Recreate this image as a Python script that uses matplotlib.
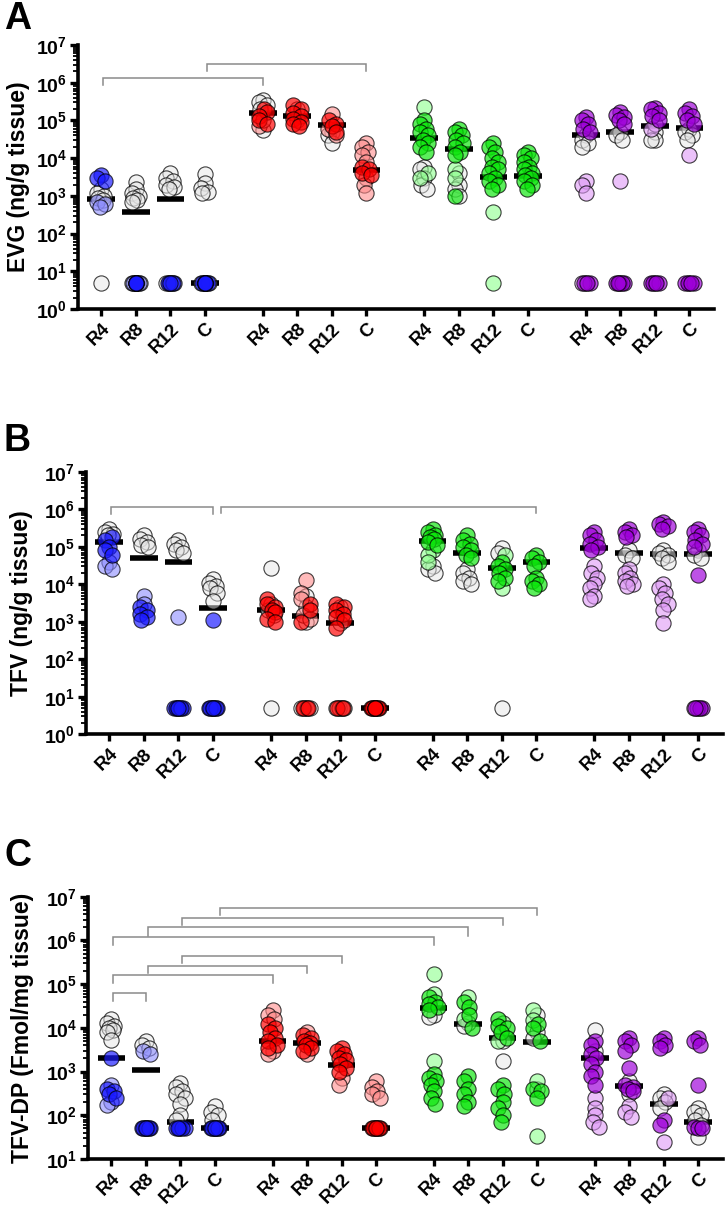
import numpy as np
import matplotlib
matplotlib.use('Agg')
import matplotlib.pyplot as plt
from matplotlib.ticker import FixedLocator, NullFormatter, FixedFormatter

plt.rcParams['font.family'] = ['Liberation Sans', 'DejaVu Sans']
plt.rcParams['font.weight'] = 'bold'
plt.rcParams['mathtext.fontset'] = 'custom'
plt.rcParams['mathtext.rm'] = 'Liberation Sans:bold'
plt.rcParams['mathtext.bf'] = 'Liberation Sans:bold'
plt.rcParams['mathtext.it'] = 'Liberation Sans:bold'

# ---------------- data ----------------
tick_labels = ['R4', 'R8', 'R12', 'C'] * 4
group_names = ['blue', 'red', 'green', 'purple']

# Panel A : EVG (ng/g tissue)
A_gray = [[1500, 1200, 1000, 900, 800, 5],
          [2300, 1500, 1200, 1000, 900, 800, 700, 5, 5, 5, 5],
          [4000, 3000, 2500, 2000, 1700, 1500, 5, 5],
          [3800, 2200, 1600, 1300, 1200, 5, 5, 5],
          [3.5e5, 3e5, 2.5e5, 2e5, 5.6e4],
          [2e5, 1e5],
          [5e4, 4e4, 2.5e4],
          [],
          [6e3, 5e3, 3e3, 2e3, 1.5e3],
          [4e3, 2e3, 1.5e3, 1e3],
          [],
          [],
          [4e4, 3e4, 2.5e4, 2e4, 5],
          [5e4, 4e4, 3e4],
          [5e4, 3e4, 3e4],
          [6e4, 5e4, 4e4, 3e4]]
A_light = [[700, 600, 500],
           [5, 5, 5],
           [5, 5, 5],
           [],
           [7e4, 1e5],
           [],
           [1.5e5, 6e4, 4e4],
           [2.5e4, 2e4, 1.5e4, 1.2e4, 8e3, 3e3, 2e3, 1.2e3],
           [2.3e5, 4e3, 3e3],
           [5e3, 3e3],
           [370, 5],
           [],
           [2.5e3, 2e3, 1.2e3, 5],
           [2.5e3],
           [8e4, 6e4, 5],
           [1.2e4]]
A_dark = [[3500, 3000, 2500],
          [5, 5, 5, 5],
          [5, 5, 5],
          [5, 5, 5, 5, 5, 5, 5, 5],
          [2e5, 1.7e5, 1.3e5, 1e5, 8e4],
          [2.5e5, 2e5, 1.6e5, 1.3e5, 1.1e5, 9e4, 8e4, 7e4],
          [1e5, 8e4, 7e4, 5e4],
          [6e3, 5e3, 4e3, 3.5e3],
          [1e5, 8e4, 6e4, 5e4, 4e4, 3e4, 2.5e4, 2e4, 1.5e4],
          [6e4, 5e4, 4e4, 3e4, 2.5e4, 2e4, 1.5e4, 1.2e4, 1e3],
          [2.5e4, 2e4, 1.5e4, 1e4, 8e3, 6e3, 5e3, 4e3, 3e3, 2.5e3, 2e3, 1.5e3],
          [1.5e4, 1.2e4, 1e4, 8e3, 6e3, 5e3, 4e3, 3.5e3, 3e3, 2.5e3, 2e3, 1.5e3],
          [1.2e5, 1e5, 8e4, 6e4, 5e4, 5, 5, 5],
          [1.7e5, 1.4e5, 1.2e5, 1e5, 8e4, 5, 5, 5, 5, 5, 5],
          [2.2e5, 2e5, 1.6e5, 1.3e5, 1e5, 5, 5, 5, 5],
          [2e5, 1.6e5, 1.3e5, 1e5, 8e4, 5, 5, 5, 5, 5]]
A_median = [830, 380, 820, 5, 1.6e5, 1.3e5, 7.5e4, 4.8e3,
            3.4e4, 1.7e4, 3.1e3, 3.4e3, 4.1e4, 5e4, 7.3e4, 6.3e4]
A_brackets = [(0, 4, 10**6.12, 10**5.94), (3, 7, 10**6.49, 10**6.32)]

# Panel B : TFV (ng/g tissue)
B_gray = [[3e5, 2.5e5, 2.2e5, 2e5],
          [2e5, 1.6e5, 1.3e5, 1.1e5, 1e5],
          [1.5e5, 1.2e5, 1e5, 8e4, 7e4],
          [1.4e4, 1.1e4, 9e3, 8e3, 6e3, 3.5e3],
          [2.7e4, 3e3, 2e3, 5],
          [5e3, 2.5e3, 1e3, 5, 5, 5],
          [2.5e3, 9e2, 5, 5, 5],
          [],
          [3e4, 2.5e4, 2e4],
          [2.5e4, 2e4, 1.5e4, 1.2e4, 1e4],
          [9e4, 7e4, 5],
          [],
          [],
          [8e4, 6e4, 5e4],
          [8e4, 7e4, 6e4, 5e4, 4e4],
          [8e4, 6e4, 5e4]]
B_light = [[4e4, 3e4, 2.5e4],
           [5e3, 3e3],
           [1.3e3],
           [],
           [1.5e3],
           [1.3e4, 6e3, 4e3, 1.5e3, 1.2e3, 5, 5],
           [5, 5],
           [],
           [8e4, 6e4, 4e4],
           [],
           [6e4, 8e3],
           [],
           [3e4, 2e4, 1.5e4, 1e4, 8e3, 5e3, 4e3],
           [2.5e4, 2e4, 1.5e4, 1.2e4, 1e4, 9e3],
           [1e4, 8e3, 6e3, 4e3, 3e3, 2e3, 9e2],
           [5, 5]]
B_dark = [[1.8e5, 1.5e5, 1e5, 8e4, 6e4],
          [2.5e3, 2e3, 1.6e3, 1.3e3, 1.1e3],
          [5, 5, 5, 5, 5, 5, 5, 5],
          [1.1e3, 5, 5, 5, 5, 5, 5, 5, 5],
          [4e3, 3e3, 2.5e3, 2e3, 1.8e3, 1.2e3, 1e3],
          [3e3, 2e3, 1e3, 5, 5],
          [3e3, 2.5e3, 2e3, 1.6e3, 1.3e3, 1.1e3, 7e2, 5, 5],
          [5, 5, 5, 5, 5, 5, 5, 5, 5, 5],
          [3e5, 2.5e5, 2e5, 1.8e5, 1.6e5, 1.3e5, 1.1e5],
          [2e5, 1.5e5, 1.2e5, 1e5, 8e4, 6e4, 5e4],
          [4e4, 3e4, 2.5e4, 2e4, 1.5e4, 1.2e4],
          [6e4, 5e4, 4e4, 3e4, 1.5e4, 1.2e4, 1e4, 8e3],
          [2.5e5, 2e5, 1.5e5, 1.2e5, 1e5, 8e4],
          [3e5, 2.5e5, 2e5, 1.8e5],
          [4.5e5, 4e5, 3.5e5, 3e5],
          [3e5, 2.5e5, 2e5, 1.5e5, 1.2e5, 1e5, 1.8e4, 5, 5, 5, 5]]
B_median = [1.3e5, 4.9e4, 3.8e4, 2.3e3, 2e3, 1.4e3, 9.2e2, 5,
            1.45e5, 7e4, 2.75e4, 3.9e4, 9.3e4, 6.6e4, 6.3e4, 6.3e4]
B_brackets = [(0, 3, 10**6.05, 10**5.87), (3.17, 11, 10**6.07, 10**5.89)]

# Panel C : TFV-DP (Fmol/mg tissue)
C_gray = [[1.6e4, 1.3e4, 1.1e4, 1e4, 9e3, 8e3, 5.3e3],
          [5e3, 4e3, 3.5e3],
          [5.5e2, 4.5e2, 3.5e2, 3e2, 2.5e2, 1.8e2, 1e2, 8e1],
          [1.6e2, 1.2e2, 1e2, 8e1],
          [],
          [],
          [],
          [],
          [2e4, 1.8e4],
          [1.3e4, 1.1e4],
          [1.7e3, 5e3],
          [2e4, 8e3, 6e3, 4e2],
          [9e3, 3e3],
          [6e2, 3e2],
          [3e2, 2.5e2, 2e2, 1.5e2],
          [1.5e2, 1.2e2, 1e2, 8e1, 6e1, 3.2e1]]
C_light = [[5e2, 2e2, 1.7e2],
           [3e3, 2.5e3],
           [],
           [],
           [2.5e4, 2e4, 1.6e4, 3e3, 2.5e3],
           [8e3, 2.5e3],
           [7e2, 5e2],
           [6e2, 4.5e2, 3.5e2, 3e2, 2.5e2],
           [1.7e5, 1.7e3, 6e4],
           [5e4, 1.6e4],
           [1.3e4, 5e3],
           [2.5e4, 1.5e4, 6e2, 33],
           [2.5e2, 1.5e2, 1e2, 7e1, 5.5e1],
           [1.6e2, 1.2e2, 9e1],
           [2.5e2, 25],
           []]
C_dark = [[2e3, 4e2, 3.5e2, 3e2, 2.5e2],
          [50, 50, 50, 50, 50, 50, 50, 50],
          [50, 50, 50, 50, 50, 50],
          [50, 50, 50, 50, 50, 50, 50, 50],
          [1.2e4, 1e4, 8e3, 6e3, 5e3, 4e3, 3.5e3],
          [7e3, 6e3, 5e3, 4.5e3, 4e3, 3.5e3, 3e3],
          [3.5e3, 3e3, 2.5e3, 2e3, 1.8e3, 1.5e3, 1.2e3, 1e3],
          [50, 50, 50, 50, 50, 50, 50, 50],
          [5e4, 4e4, 3.5e4, 3e4, 2.5e4, 9e2, 7e2, 6e2, 5e2, 3.5e2, 2.5e2, 1.8e2],
          [4e4, 3e4, 2e4, 1e4, 8e2, 6e2, 4e2, 3e2, 2e2, 1.6e2],
          [1.6e4, 1.1e4, 1e4, 8e3, 6e3, 5e2, 4e2, 3e2, 2e2, 1.5e2, 1e2, 7e1],
          [1.2e4, 1e4, 5e3, 4e2, 3.5e2, 2.5e2],
          [5e3, 4e3, 2.5e3, 2e3, 1.5e3, 1e3, 8e2, 5e2],
          [6e3, 5e3, 4e3, 3e3, 1.2e3, 5e2, 4.5e2, 4e2, 3.5e2],
          [6e3, 5e3, 4e3, 3.5e3, 8e1, 6e1],
          [6e3, 5e3, 4e3, 5e2, 5.5e1, 5e1, 5e1]]
C_median = [2e3, 1.1e3, 70, 50, 5e3, 4.4e3, 1.4e3, 50,
            2.8e4, 1.2e4, 5.8e3, 4.8e3, 2e3, 4.8e2, 1.8e2, 70]
C_brackets = [(0, 1, 10**4.79, 10**4.61),
              (0, 4, 10**5.21, 10**5.03),
              (1, 5, 10**5.42, 10**5.26),
              (2, 6, 10**5.65, 10**5.49),
              (0, 8, 10**6.07, 10**5.90),
              (1, 9, 10**6.30, 10**6.11),
              (2, 10, 10**6.52, 10**6.35),
              (3.1, 11, 10**6.75, 10**6.58)]

# ---------------- styling ----------------
dark_col = {'blue': (0.1, 0.1, 1.0), 'red': (1.0, 0.0, 0.0),
            'green': (0.05, 0.9, 0.05), 'purple': (0.62, 0.0, 0.85)}
light_col = {'blue': (0.55, 0.55, 1.0), 'red': (1.0, 0.55, 0.55),
             'green': (0.55, 1.0, 0.55), 'purple': (0.87, 0.6, 0.96)}
gray_col = (0.9, 0.9, 0.9)

W, H = 726, 1212
fig = plt.figure(figsize=(W / 100, H / 100), dpi=100)

xpos = [g * 4.67 + i for g in range(4) for i in range(4)]
XLIM = (-0.67, 17.72)


def swarm(values, ratio, step=0.04, maxoff=0.12, dmin=0.2):
    cands = [0.0]
    k = 1
    while k * step <= maxoff + 1e-9:
        cands += [-k * step, k * step]
        k += 1
    placed = []
    offs = []
    for v in values:
        y = np.log10(v) * ratio
        best, bestd, bestc = None, -1, 0.0
        for c in cands:
            if placed:
                md = min(np.hypot(c - px, y - py) for px, py in placed)
            else:
                md = np.inf
            if md >= dmin:
                best = c
                break
            if md > bestd + 1e-9:
                bestd, bestc = md, c
        if best is None:
            best = bestc
        placed.append((best, y))
        offs.append(best)
    return offs


def panel(rect, gray, light, dark, med, brackets, ylo, ylabel, label_x, letter, letter_y):
    ax = fig.add_axes(rect)
    ax.set_yscale('log')
    ax.set_ylim(10 ** ylo, 1e7)
    ax.set_xlim(*XLIM)
    wpx = rect[2] * W
    hpx = rect[3] * H
    ratio = (hpx / (7 - ylo)) / (wpx / (XLIM[1] - XLIM[0]))
    for i, x0 in enumerate(xpos):
        g = group_names[i // 4]
        allv = list(gray[i]) + list(light[i]) + list(dark[i])
        kinds = ['g'] * len(gray[i]) + ['l'] * len(light[i]) + ['d'] * len(dark[i])
        if allv:
            offs = swarm(allv, ratio)
            xs = np.array(offs) + x0
            vals = np.array(allv)
            kinds = np.array(kinds)
            for kd, fc, al, z in [('g', gray_col, 0.5, 3), ('l', light_col[g], 0.6, 4),
                                  ('d', dark_col[g], 0.68, 5)]:
                m = kinds == kd
                if m.any():
                    ax.scatter(xs[m], vals[m], s=120, marker='o',
                               facecolor=(*fc, al), edgecolor=(0, 0, 0, 0.75),
                               linewidth=0.8, zorder=z)
        ax.hlines(med[i], x0 - 0.4, x0 + 0.4, color='black', linewidth=4.0, zorder=2)
    for (a, b, yt, yd) in brackets:
        xa = xpos[int(a)] + (a - int(a)) + 0.05
        xb = xpos[b]
        ax.plot([xa, xa, xb, xb], [yd, yt, yt, yd], color='#8a8a8a', linewidth=1.1,
                zorder=1, solid_joinstyle='miter')
    majors = [10.0 ** k for k in range(ylo, 8)]
    minors = [m * 10.0 ** k for k in range(ylo, 7) for m in range(2, 10)]
    ax.yaxis.set_major_locator(FixedLocator(majors))
    ax.yaxis.set_minor_locator(FixedLocator(minors))
    ax.yaxis.set_major_formatter(FixedFormatter([r'$\mathbf{10^{%d}}$' % k for k in range(ylo, 8)]))
    ax.yaxis.set_minor_formatter(NullFormatter())
    ax.set_xticks(xpos)
    ax.set_xticklabels(tick_labels, rotation=45, ha='right', rotation_mode='anchor',
                       fontsize=13.5, fontweight='bold')
    for s in ['top', 'right']:
        ax.spines[s].set_visible(False)
    ax.spines['left'].set_linewidth(2.6)
    ax.spines['bottom'].set_linewidth(2.6)
    ax.tick_params(axis='y', which='major', length=6, width=2.4, labelsize=14, pad=2)
    ax.tick_params(axis='y', which='minor', length=3.5, width=1.3)
    ax.tick_params(axis='x', which='major', length=5, width=2.4, pad=3)
    ax.set_ylabel(ylabel, fontsize=16.5, fontweight='bold')
    ax.yaxis.set_label_coords(label_x, 0.5)
    fig.text(4 / W, letter_y, letter, fontsize=27, fontweight='bold', ha='left', va='top')
    return ax


panel([78 / W, 1 - 309 / H, 636 / W, 264 / H], A_gray, A_light, A_dark, A_median,
      A_brackets, 0, 'EVG (ng/g tissue)', -0.075, 'A', 1 - 1 / H)
panel([86 / W, 1 - 734.3 / H, 636.7 / W, 262.6 / H], B_gray, B_light, B_dark, B_median,
      B_brackets, 0, 'TFV (ng/g tissue)', -0.083, 'B', 1 - 423 / H)
panel([88.3 / W, 1 - 1159 / H, 634.4 / W, 262.3 / H], C_gray, C_light, C_dark, C_median,
      C_brackets, 1, 'TFV-DP (Fmol/mg tissue)', -0.086, 'C', 1 - 838 / H)

fig.savefig('out.png', dpi=100)
